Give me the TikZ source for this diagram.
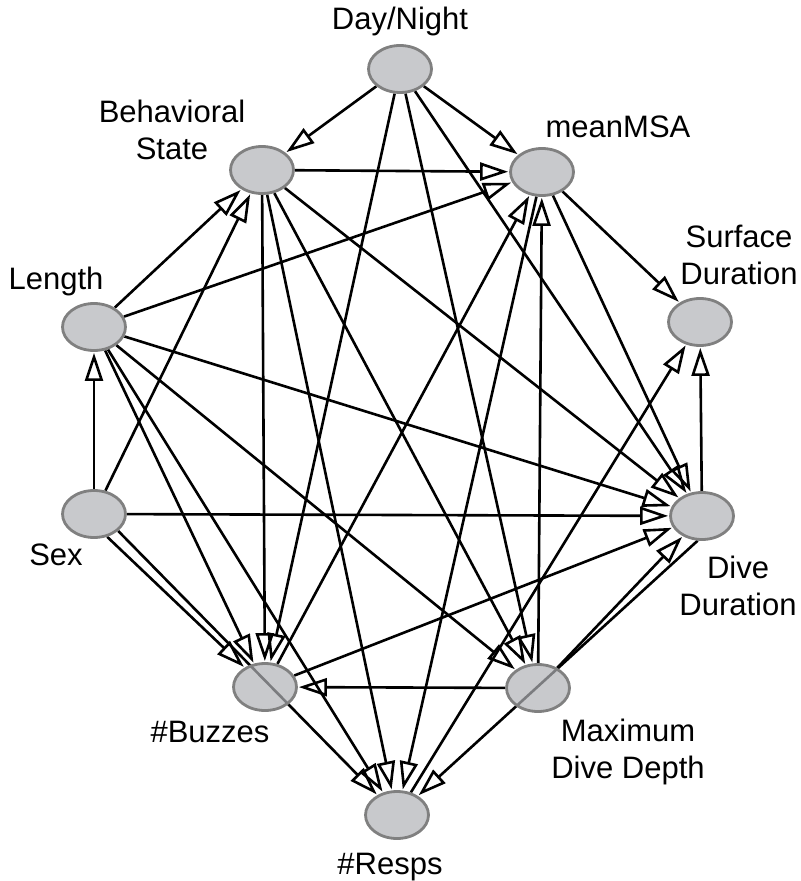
\documentclass[tikz,border=0pt]{standalone}
\usepackage{fontspec}
\setmainfont{Liberation Sans}
\usetikzlibrary{arrows.meta,shapes.geometric}
\pgfdeclarelayer{edges}
\pgfsetlayers{edges,main}
\definecolor{nodefill}{RGB}{176,178,182}
\definecolor{nodeline}{RGB}{128,128,128}

\begin{document}
\begin{tikzpicture}[x=0.5pt,y=-0.5pt,
  var/.style={ellipse, draw=nodeline, line width=1.4pt, fill=nodefill,
    fill opacity=0.7, draw opacity=1, minimum width=31.5pt,
    minimum height=23.5pt, inner sep=0pt},
  lbl/.style={font=\fontsize{15.5}{18.5}\selectfont, anchor=base,
    align=center, inner sep=0pt},
  link/.style={line width=1.3pt,
    -{Triangle[open, length=14pt, width=9pt]}, shorten >=0.5pt},
]
\useasboundingbox (0,0) rectangle (800,881);

% variables
\node[var] (DN)  at (400,69)  {};
\node[var] (BS)  at (262,170) {};
\node[var] (MSA) at (542,172) {};
\node[var] (SD)  at (700,322) {};
\node[var] (L)   at (94,327)  {};
\node[var] (S)   at (94,514)  {};
\node[var] (DD)  at (702,516) {};
\node[var] (B)   at (265,687) {};
\node[var] (MDD) at (538,688) {};
\node[var] (R)   at (397,815) {};

% labels
\node[lbl] (tDN)  at (400,30)  {Day/Night};
\node[lbl] (tBS)  at (172,160) {Behavioral\\State};
\node[lbl] (tMSA) at (618,138) {meanMSA};
\node[lbl] (tSD)  at (739,285) {Surface\\Duration};
\node[lbl] (tL)   at (56,290)  {Length};
\node[lbl] (tS)   at (56,565)  {Sex};
\node[lbl] (tDD)  at (738,615) {Dive\\Duration};
\node[lbl] (tB)   at (210,742) {\#Buzzes};
\node[lbl] (tMDD) at (628,778) {Maximum\\Dive Depth};
\node[lbl] (tR)   at (390,874) {\#Resps};

% directed links, drawn beneath the variables
\begin{pgfonlayer}{edges}
  \draw[link] (DN) -- (BS);
  \draw[link] (DN) -- (MSA);
  \draw[link] (DN) -- (B);
  \draw[link] (DN) -- (MDD);
  \draw[link] (DN) -- (DD);

  \draw[link] (BS) -- (MSA);
  \draw[link] (BS) -- (B);
  \draw[link] (BS) -- (R);
  \draw[link] (BS) -- (MDD);
  \draw[link] (BS) -- (DD);

  \draw[link] (L) -- (BS);
  \draw[link] (L) -- (MSA);
  \draw[link] (L) -- (DD);
  \draw[link] (L) -- (MDD);
  \draw[link] (L) -- (B);
  \draw[link] (L) -- (R);

  \draw[link] (S) -- (L);
  \draw[link] (S) -- (BS);
  \draw[link] (S) -- (DD);
  \draw[link] (S.-60) -- (B);
  \draw[link] (S.-35) -- (R);

  \draw[link] (MSA) -- (SD);
  \draw[link] (MSA) -- (DD);
  \draw[link] (MSA) -- (R);

  \draw[link] (B) -- (MSA);
  \draw[link] (B) -- (DD);

  \draw[link] (MDD) -- (MSA);
  \draw[link] (MDD) -- (DD);
  \draw[link] (MDD) -- (B);

  \draw[link] (DD) -- (SD);
  \draw[link] (DD.-100) -- (R);

  \draw[link] (R) -- (SD);
\end{pgfonlayer}
\end{tikzpicture}
\end{document}
